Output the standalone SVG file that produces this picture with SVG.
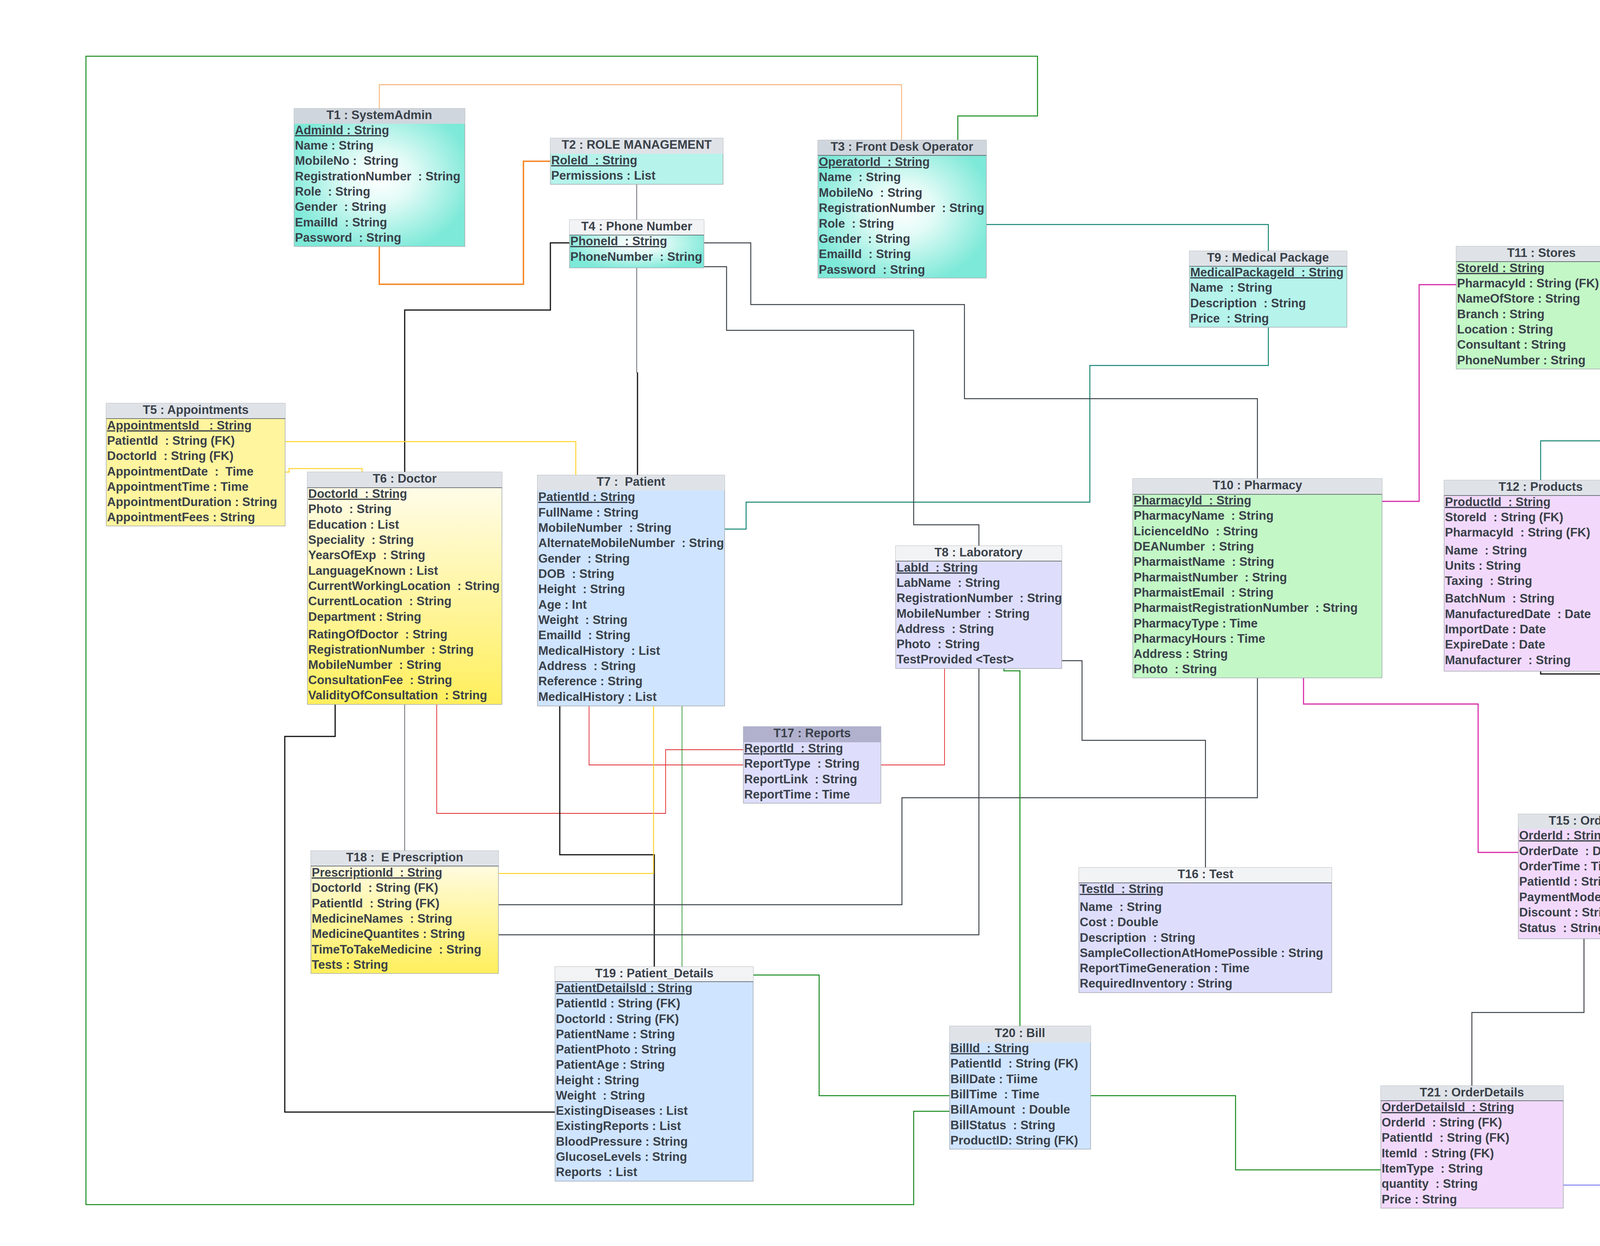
<svg xmlns="http://www.w3.org/2000/svg" width="5015" height="3191" viewBox="0 0 5015 3191" xml:space="preserve">
<defs>
<style>
.t{font-family:"Liberation Sans",Arial,Helvetica,sans-serif;font-size:31px;font-weight:bold;fill:#3a414a;white-space:pre}
.c{text-anchor:middle}
.pk{text-decoration:underline}
.box{stroke:#a5aab0;stroke-width:1.5}
.hd{fill:#dfe3e8}
.hl{fill:#f2f3f5}
.sep{stroke:#4a5058;stroke-width:1.5}
.cn{fill:none;stroke-linejoin:miter}
.or1{stroke:#f5821f;stroke-width:3.5}
.or2{stroke:#f5a55f;stroke-width:1.8}
.gr{stroke:#14891a;stroke-width:2.5}
.grt{stroke:#14891a;stroke-width:1.6}
.te{stroke:#0f8270;stroke-width:2.4}
.dk{stroke:#3b4149;stroke-width:2.4}
.dkt{stroke:#3b4149;stroke-width:1.5}
.bk{stroke:#111;stroke-width:3}
.rd{stroke:#e0282e;stroke-width:1.8}
.ye{stroke:#ffd42a;stroke-width:2.4}
.pi{stroke:#d62aa5;stroke-width:2.8}
.bl{stroke:#6666ee;stroke-width:2}
</style>
<radialGradient id="gTeal" cx="0.5" cy="0.5" r="0.55">
<stop offset="0" stop-color="#ffffff"/>
<stop offset="0.35" stop-color="#e2fbf6"/>
<stop offset="1" stop-color="#7de9d8"/>
</radialGradient>
<linearGradient id="gYel" x1="0" y1="0" x2="0" y2="1">
<stop offset="0" stop-color="#fffdf2"/>
<stop offset="1" stop-color="#ffef5c"/>
</linearGradient>
</defs>
<rect width="5015" height="3191" fill="#ffffff"/>

<g id="connectors">
<polyline class="cn or1" points="971,631 971,728 1340,728 1340,413 1409,413"/>
<polyline class="cn or2" points="971,278 971,217 2308,217 2308,359"/>
<polyline class="cn gr" points="2452,359 2452,297 2656,297 2656,144 220,144 220,3085 2339,3085 2339,2846 2431,2846"/>
<polyline class="cn te" points="2525,575 3247,575 3247,643"/>
<polyline class="cn te" points="3247,838 3247,936 2790,936 2790,1286 1910,1286 1910,1355 1855,1355"/>
<polyline class="cn dk" points="1802,622 1922,622 1922,780 2469,780 2469,1021 3219,1021 3219,1226"/>
<polyline class="cn dk" points="1802,683 1860,683 1860,846 2339,846 2339,1344 2506,1344 2506,1398"/>
<polyline class="cn dkt" points="1630,472 1630,563"/>
<polyline class="cn dkt" points="1630,686 1630,954 1632,954"/>
<polyline class="cn bk" points="1632,954 1632,1217"/>
<polyline class="cn bk" points="1458,622 1409,622 1409,794 1036,794 1036,1209"/>
<polyline class="cn ye" points="730,1131 1474,1131 1474,1217"/>
<polyline class="cn ye" points="730,1209 740,1209 740,1200 927,1200 927,1209"/>
<polyline class="cn bk" points="858,1804 858,1886 729,1886 729,2848 1421,2848"/>
<polyline class="cn dkt" points="1036,1804 1036,2179"/>
<polyline class="cn rd" points="1118,1804 1118,2083 1704,2083 1704,1920 1903,1920"/>
<polyline class="cn bk" points="1433,1808 1433,2189 1675,2189 1675,2476"/>
<polyline class="cn rd" points="1508,1808 1508,1959 1903,1959"/>
<polyline class="cn ye" points="1673,1808 1673,2237 1276,2237"/>
<polyline class="cn grt" points="1746,1808 1746,2476"/>
<polyline class="cn dk" points="1276,2317 2309,2317 2309,2043 3219,2043 3219,1736"/>
<polyline class="cn dk" points="1276,2394 2506,2394 2506,1712"/>
<polyline class="cn rd" points="2418,1712 2418,1959 2255,1959"/>
<polyline class="cn gr" points="2570,1712 2570,1718 2611,1718 2611,2628"/>
<polyline class="cn dk" points="2718,1692 2770,1692 2770,1896 3086,1896 3086,2222"/>
<polyline class="cn pi" points="3538,1284 3633,1284 3633,729 3728,729"/>
<polyline class="cn te" points="4165,690 4401,690 4401,1129 3944,1129 3944,1230"/>
<polyline class="cn bk" points="4191,1328 4760,1328 4760,1393"/>
<polyline class="cn bk" points="3944,1719 3944,1726 4530,1726 4530,2007"/>
<polyline class="cn bl" points="4760,1635 4760,3035 4002,3035"/>
<polyline class="cn pi" points="3337,1736 3337,1803 3784,1803 3784,2183 3887,2183"/>
<polyline class="cn dk" points="4055,2404 4055,2593 3768,2593 3768,2781"/>
<polyline class="cn gr" points="1928,2497 2097,2497 2097,2806 2431,2806"/>
<polyline class="cn gr" points="2792,2806 3163,2806 3163,2996 3535,2996"/>
</g>

<g id="T1">
<rect class="box" x="753" y="278" width="437" height="353" fill="url(#gTeal)"/>
<rect x="753" y="278" width="437" height="39" fill="#d0d6dd"/>
<text class="t c" x="971" y="305">T1 : SystemAdmin</text>
<text class="t pk" x="755" y="344">AdminId : String</text>
<text class="t" x="755" y="383">Name : String</text>
<text class="t" x="755" y="422">MobileNo :  String</text>
<text class="t" x="755" y="462">RegistrationNumber  : String</text>
<text class="t" x="755" y="501">Role  : String</text>
<text class="t" x="755" y="540">Gender  : String</text>
<text class="t" x="755" y="580">EmailId  : String</text>
<text class="t" x="755" y="619">Password  : String</text>
</g>

<g id="T2">
<rect class="box" x="1409" y="354" width="442" height="118" fill="#b5f3eb"/>
<rect class="hd" x="1409" y="354" width="442" height="40"/>
<text class="t c" x="1630" y="381">T2 : ROLE MANAGEMENT</text>
<text class="t pk" x="1411" y="421">RoleId  : String</text>
<text class="t" x="1411" y="460">Permissions : List</text>
</g>

<g id="T3">
<rect class="box" x="2094" y="359" width="431" height="353" fill="url(#gTeal)"/>
<rect x="2094" y="359" width="431" height="39" fill="#d0d6dd"/>
<line class="sep" x1="2094" y1="398" x2="2525" y2="398"/>
<text class="t c" x="2309" y="386">T3 : Front Desk Operator</text>
<text class="t pk" x="2096" y="425">OperatorId  : String</text>
<text class="t" x="2096" y="464">Name  : String</text>
<text class="t" x="2096" y="504">MobileNo  : String</text>
<text class="t" x="2096" y="543">RegistrationNumber  : String</text>
<text class="t" x="2096" y="583">Role  : String</text>
<text class="t" x="2096" y="622">Gender  : String</text>
<text class="t" x="2096" y="661">EmailId  : String</text>
<text class="t" x="2096" y="701">Password  : String</text>
</g>

<g id="T4">
<rect class="box" x="1458" y="563" width="344" height="123" fill="url(#gTeal)"/>
<rect class="hl" x="1458" y="563" width="344" height="39"/>
<line class="sep" x1="1458" y1="602" x2="1802" y2="602"/>
<text class="t c" x="1630" y="590">T4 : Phone Number</text>
<text class="t pk" x="1460" y="628">PhoneId  : String</text>
<text class="t" x="1460" y="668">PhoneNumber  : String</text>
</g>

<g id="T5">
<rect class="box" x="272" y="1033" width="458" height="314" fill="#fff59e"/>
<rect class="hd" x="272" y="1033" width="458" height="39"/>
<line class="sep" x1="272" y1="1072" x2="730" y2="1072"/>
<text class="t c" x="501" y="1060">T5 : Appointments</text>
<text class="t pk" x="274" y="1100">AppointmentsId   : String</text>
<text class="t" x="274" y="1139">PatientId  : String (FK)</text>
<text class="t" x="274" y="1178">DoctorId  : String (FK)</text>
<text class="t" x="274" y="1218">AppointmentDate  :  Time</text>
<text class="t" x="274" y="1257">AppointmentTime : Time</text>
<text class="t" x="274" y="1296">AppointmentDuration : String</text>
<text class="t" x="274" y="1335">AppointmentFees : String</text>
</g>

<g id="T6">
<rect class="box" x="787" y="1209" width="498" height="595" fill="url(#gYel)"/>
<rect class="hd" x="787" y="1209" width="498" height="40"/>
<line class="sep" x1="787" y1="1249" x2="1285" y2="1249"/>
<text class="t c" x="1036" y="1236">T6 : Doctor</text>
<text class="t pk" x="789" y="1275">DoctorId  : String</text>
<text class="t" x="789" y="1314">Photo  : String</text>
<text class="t" x="789" y="1354">Education : List</text>
<text class="t" x="789" y="1393">Speciality  : String</text>
<text class="t" x="789" y="1432">YearsOfExp  : String</text>
<text class="t" x="789" y="1472">LanguageKnown : List</text>
<text class="t" x="789" y="1511">CurrentWorkingLocation  : String</text>
<text class="t" x="789" y="1550">CurrentLocation  : String</text>
<text class="t" x="789" y="1590">Department : String</text>
<text class="t" x="789" y="1635">RatingOfDoctor  : String</text>
<text class="t" x="789" y="1674">RegistrationNumber  : String</text>
<text class="t" x="789" y="1713">MobileNumber  : String</text>
<text class="t" x="789" y="1752">ConsultationFee  : String</text>
<text class="t" x="789" y="1791">ValidityOfConsultation  : String</text>
</g>

<g id="T7">
<rect class="box" x="1376" y="1217" width="479" height="591" fill="#cfe4ff"/>
<rect class="hd" x="1376" y="1217" width="479" height="39"/>
<text class="t c" x="1615" y="1244">T7 :  Patient</text>
<text class="t pk" x="1378" y="1283">PatientId : String</text>
<text class="t" x="1378" y="1323">FullName : String</text>
<text class="t" x="1378" y="1362">MobileNumber  : String</text>
<text class="t" x="1378" y="1401">AlternateMobileNumber  : String</text>
<text class="t" x="1378" y="1441">Gender  : String</text>
<text class="t" x="1378" y="1480">DOB  : String</text>
<text class="t" x="1378" y="1519">Height  : String</text>
<text class="t" x="1378" y="1559">Age : Int</text>
<text class="t" x="1378" y="1598">Weight  : String</text>
<text class="t" x="1378" y="1637">EmailId  : String</text>
<text class="t" x="1378" y="1677">MedicalHistory  : List</text>
<text class="t" x="1378" y="1716">Address  : String</text>
<text class="t" x="1378" y="1755">Reference : String</text>
<text class="t" x="1378" y="1795">MedicalHistory : List</text>
</g>

<g id="T8">
<rect class="box" x="2293" y="1398" width="425" height="314" fill="#dedefc"/>
<rect class="hl" x="2293" y="1398" width="425" height="39"/>
<line class="sep" x1="2293" y1="1437" x2="2718" y2="1437"/>
<text class="t c" x="2505" y="1425">T8 : Laboratory</text>
<text class="t pk" x="2295" y="1464">LabId  : String</text>
<text class="t" x="2295" y="1503">LabName  : String</text>
<text class="t" x="2295" y="1542">RegistrationNumber  : String</text>
<text class="t" x="2295" y="1582">MobileNumber  : String</text>
<text class="t" x="2295" y="1621">Address  : String</text>
<text class="t" x="2295" y="1660">Photo  : String</text>
<text class="t" x="2295" y="1699">TestProvided &lt;Test&gt;</text>
</g>

<g id="T9">
<rect class="box" x="3045" y="643" width="403" height="195" fill="#b5f3eb"/>
<rect class="hd" x="3045" y="643" width="403" height="39"/>
<line class="sep" x1="3045" y1="682" x2="3448" y2="682"/>
<text class="t c" x="3246" y="670">T9 : Medical Package</text>
<text class="t pk" x="3047" y="708">MedicalPackageId  : String</text>
<text class="t" x="3047" y="747">Name  : String</text>
<text class="t" x="3047" y="787">Description  : String</text>
<text class="t" x="3047" y="826">Price  : String</text>
</g>

<g id="T10">
<rect class="box" x="2900" y="1226" width="638" height="510" fill="#c3f7c6"/>
<rect class="hd" x="2900" y="1226" width="638" height="40"/>
<line class="sep" x1="2900" y1="1266" x2="3538" y2="1266"/>
<text class="t c" x="3219" y="1253">T10 : Pharmacy</text>
<text class="t pk" x="2902" y="1292">PharmacyId  : String</text>
<text class="t" x="2902" y="1331">PharmacyName  : String</text>
<text class="t" x="2902" y="1371">LicienceIdNo  : String</text>
<text class="t" x="2902" y="1410">DEANumber  : String</text>
<text class="t" x="2902" y="1449">PharmaistName  : String</text>
<text class="t" x="2902" y="1489">PharmaistNumber  : String</text>
<text class="t" x="2902" y="1528">PharmaistEmail  : String</text>
<text class="t" x="2902" y="1567">PharmaistRegistrationNumber  : String</text>
<text class="t" x="2902" y="1607">PharmacyType : Time</text>
<text class="t" x="2902" y="1646">PharmacyHours : Time</text>
<text class="t" x="2902" y="1685">Address : String</text>
<text class="t" x="2902" y="1724">Photo  : String</text>
</g>

<g id="T11">
<rect class="box" x="3728" y="631" width="437" height="314" fill="#c3f7c6"/>
<rect class="hd" x="3728" y="631" width="437" height="39"/>
<line class="sep" x1="3728" y1="670" x2="4165" y2="670"/>
<text class="t c" x="3946" y="658">T11 : Stores</text>
<text class="t pk" x="3730" y="697">StoreId : String</text>
<text class="t" x="3730" y="736">PharmacyId : String (FK)</text>
<text class="t" x="3730" y="775">NameOfStore : String</text>
<text class="t" x="3730" y="815">Branch : String</text>
<text class="t" x="3730" y="854">Location : String</text>
<text class="t" x="3730" y="893">Consultant : String</text>
<text class="t" x="3730" y="933">PhoneNumber : String</text>
</g>

<g id="T12">
<rect class="box" x="3697" y="1230" width="494" height="489" fill="#f2d9fc"/>
<rect class="hd" x="3697" y="1230" width="494" height="39"/>
<line class="sep" x1="3697" y1="1269" x2="4191" y2="1269"/>
<text class="t c" x="3944" y="1257">T12 : Products</text>
<text class="t pk" x="3699" y="1296">ProductId  : String</text>
<text class="t" x="3699" y="1335">StoreId  : String (FK)</text>
<text class="t" x="3699" y="1374">PharmacyId  : String (FK)</text>
<text class="t" x="3699" y="1420">Name  : String</text>
<text class="t" x="3699" y="1459">Units : String</text>
<text class="t" x="3699" y="1498">Taxing  : String</text>
<text class="t" x="3699" y="1543">BatchNum  : String</text>
<text class="t" x="3699" y="1583">ManufacturedDate  : Date</text>
<text class="t" x="3699" y="1622">ImportDate : Date</text>
<text class="t" x="3699" y="1661">ExpireDate : Date</text>
<text class="t" x="3699" y="1701">Manufacturer  : String</text>
</g>

<g id="T13">
<rect class="box" x="4526" y="1393" width="467" height="242" fill="#f2d9fc"/>
<rect class="hd" x="4526" y="1393" width="467" height="40"/>
<text class="t c" x="4759" y="1420">T 13 : Inventory</text>
<text class="t pk" x="4528" y="1459">InventoryId : String</text>
<text class="t" x="4528" y="1498">ProductId : String (FK)</text>
<text class="t" x="4528" y="1538">Quantity : String</text>
<text class="t" x="4528" y="1577">Price  : String</text>
<text class="t" x="4528" y="1622">Expire Date  : Date</text>
</g>

<g id="T14">
<rect class="box" x="4329" y="2007" width="403" height="196" fill="#f2d9fc"/>
<rect class="hd" x="4329" y="2007" width="403" height="40"/>
<line class="sep" x1="4329" y1="2047" x2="4732" y2="2047"/>
<text class="t c" x="4530" y="2034">T14 : Manufacturer</text>
<text class="t pk" x="4331" y="2073">ManufacturerId :  : String</text>
<text class="t" x="4331" y="2112">Name   : String</text>
<text class="t" x="4331" y="2152">MFGLicense  : String</text>
<text class="t" x="4331" y="2191">Address  : String</text>
</g>

<g id="T15">
<rect class="box" x="3887" y="2085" width="338" height="319" fill="#f2d9fc"/>
<rect class="hd" x="3887" y="2085" width="338" height="38"/>
<text class="t c" x="4056" y="2112">T15 : Orders</text>
<text class="t pk" x="3889" y="2150">OrderId : String</text>
<text class="t" x="3889" y="2190">OrderDate  : Date</text>
<text class="t" x="3889" y="2229">OrderTime : Time</text>
<text class="t" x="3889" y="2268">PatientId : String (FK)</text>
<text class="t" x="3889" y="2308">PaymentMode : String</text>
<text class="t" x="3889" y="2347">Discount : String</text>
<text class="t" x="3889" y="2387">Status  : String</text>
</g>

<g id="T16">
<rect class="box" x="2762" y="2222" width="647" height="320" fill="#dedefc"/>
<rect class="hl" x="2762" y="2222" width="647" height="39"/>
<line class="sep" x1="2762" y1="2261" x2="3409" y2="2261"/>
<text class="t c" x="3086" y="2249">T16 : Test</text>
<text class="t pk" x="2764" y="2287">TestId  : String</text>
<text class="t" x="2764" y="2333">Name  : String</text>
<text class="t" x="2764" y="2372">Cost : Double</text>
<text class="t" x="2764" y="2412">Description  : String</text>
<text class="t" x="2764" y="2451">SampleCollectionAtHomePossible : String</text>
<text class="t" x="2764" y="2490">ReportTimeGeneration : Time</text>
<text class="t" x="2764" y="2529">RequiredInventory : String</text>
</g>

<g id="T17">
<rect class="box" x="1903" y="1861" width="352" height="196" fill="#dedefc"/>
<rect x="1903" y="1861" width="352" height="40" fill="#b1b1cd"/>
<text class="t c" x="2079" y="1888">T17 : Reports</text>
<text class="t pk" x="1905" y="1927">ReportId  : String</text>
<text class="t" x="1905" y="1966">ReportType  : String</text>
<text class="t" x="1905" y="2006">ReportLink  : String</text>
<text class="t" x="1905" y="2045">ReportTime : Time</text>
</g>

<g id="T18">
<rect class="box" x="796" y="2179" width="480" height="314" fill="url(#gYel)"/>
<rect class="hd" x="796" y="2179" width="480" height="39"/>
<line class="sep" x1="796" y1="2218" x2="1276" y2="2218"/>
<text class="t c" x="1036" y="2206">T18 :  E Prescription</text>
<text class="t pk" x="798" y="2245">PrescriptionId  : String</text>
<text class="t" x="798" y="2284">DoctorId  : String (FK)</text>
<text class="t" x="798" y="2324">PatientId  : String (FK)</text>
<text class="t" x="798" y="2363">MedicineNames  : String</text>
<text class="t" x="798" y="2402">MedicineQuantites : String</text>
<text class="t" x="798" y="2442">TimeToTakeMedicine  : String</text>
<text class="t" x="798" y="2481">Tests : String</text>
</g>

<g id="T19">
<rect class="box" x="1421" y="2476" width="507" height="549" fill="#cfe4ff"/>
<rect class="hl" x="1421" y="2476" width="507" height="38"/>
<line class="sep" x1="1421" y1="2514" x2="1928" y2="2514"/>
<text class="t c" x="1675" y="2503">T19 : Patient_Details</text>
<text class="t pk" x="1423" y="2541">PatientDetailsId : String</text>
<text class="t" x="1423" y="2580">PatientId : String (FK)</text>
<text class="t" x="1423" y="2620">DoctorId : String (FK)</text>
<text class="t" x="1423" y="2659">PatientName : String</text>
<text class="t" x="1423" y="2698">PatientPhoto : String</text>
<text class="t" x="1423" y="2737">PatientAge : String</text>
<text class="t" x="1423" y="2777">Height : String</text>
<text class="t" x="1423" y="2816">Weight  : String</text>
<text class="t" x="1423" y="2855">ExistingDiseases : List</text>
<text class="t" x="1423" y="2894">ExistingReports : List</text>
<text class="t" x="1423" y="2934">BloodPressure : String</text>
<text class="t" x="1423" y="2973">GlucoseLevels : String</text>
<text class="t" x="1423" y="3012">Reports  : List</text>
</g>

<g id="T20">
<rect class="box" x="2431" y="2628" width="361" height="315" fill="#cfe4ff"/>
<rect class="hd" x="2431" y="2628" width="361" height="42"/>
<text class="t c" x="2611" y="2656">T20 : Bill</text>
<text class="t pk" x="2433" y="2695">BillId  : String</text>
<text class="t" x="2433" y="2734">PatientId  : String (FK)</text>
<text class="t" x="2433" y="2774">BillDate : Tiime</text>
<text class="t" x="2433" y="2813">BillTime  : Time</text>
<text class="t" x="2433" y="2852">BillAmount  : Double</text>
<text class="t" x="2433" y="2892">BillStatus  : String</text>
<text class="t" x="2433" y="2931">ProductID: String (FK)</text>
</g>

<g id="T21">
<rect class="box" x="3535" y="2781" width="467" height="313" fill="#f2d9fc"/>
<rect class="hd" x="3535" y="2781" width="467" height="38"/>
<line class="sep" x1="3535" y1="2819" x2="4002" y2="2819"/>
<text class="t c" x="3768" y="2808">T21 : OrderDetails</text>
<text class="t pk" x="3537" y="2846">OrderDetailsId  : String</text>
<text class="t" x="3537" y="2885">OrderId  : String (FK)</text>
<text class="t" x="3537" y="2924">PatientId  : String (FK)</text>
<text class="t" x="3537" y="2964">ItemId  : String (FK)</text>
<text class="t" x="3537" y="3003">ItemType  : String</text>
<text class="t" x="3537" y="3042">quantity  : String</text>
<text class="t" x="3537" y="3082">Price : String</text>
</g>
</svg>
